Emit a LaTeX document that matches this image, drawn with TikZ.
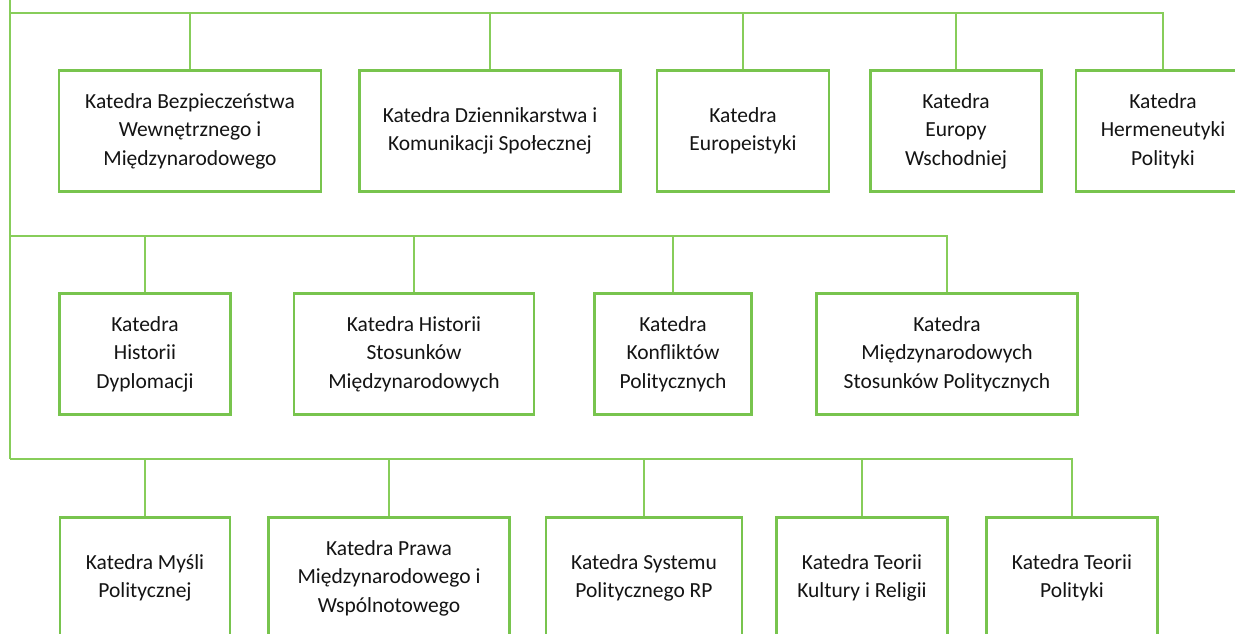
\documentclass[tikz,border=0pt]{standalone}
\usepackage{fontspec}
\setmainfont{Carlito}
\definecolor{boxgreen}{RGB}{120,196,78}
\definecolor{linegreen}{RGB}{135,205,90}
\definecolor{txt}{RGB}{20,20,20}
\tikzset{
  dept/.style={draw=boxgreen, line width=2.6pt, fill=white, align=center, text=txt,
    font=\fontsize{21.5pt}{28.5pt}\selectfont, inner sep=0pt, minimum height=121pt},
  conn/.style={draw=linegreen, line width=1.6pt}
}
\begin{document}
\begin{tikzpicture}[x=1pt,y=-1pt]
\useasboundingbox (0,0) rectangle (1235,634);
\clip (0,0) rectangle (1235,634);
% row 1
\node[dept, minimum width=262pt] (b1) at (190,131) {Katedra Bezpieczeństwa\\Wewnętrznego i\\Międzynarodowego};
\node[dept, minimum width=261pt] (b2) at (490,131) {Katedra Dziennikarstwa i\\Komunikacji Społecznej};
\node[dept, minimum width=172pt] (b3) at (743,131) {Katedra\\Europeistyki};
\node[dept, minimum width=171pt] (b4) at (956,131) {Katedra\\Europy\\Wschodniej};
\node[dept, minimum width=174pt] (b5) at (1163,131) {Katedra\\Hermeneutyki\\Polityki};
% row 2
\node[dept, minimum width=171pt] (c1) at (145,354) {Katedra\\Historii\\Dyplomacji};
\node[dept, minimum width=240pt] (c2) at (414,354) {Katedra Historii\\Stosunków\\Międzynarodowych};
\node[dept, minimum width=157pt] (c3) at (673,354) {Katedra\\Konfliktów\\Politycznych};
\node[dept, minimum width=261pt] (c4) at (947,354) {Katedra\\Międzynarodowych\\Stosunków Politycznych};
% row 3
\node[dept, minimum width=170pt] (d1) at (145,578) {Katedra Myśli\\Politycznej};
\node[dept, minimum width=241pt] (d2) at (389,578) {Katedra Prawa\\Międzynarodowego i\\Wspólnotowego};
\node[dept, minimum width=196pt] (d3) at (644,578) {Katedra Systemu\\Politycznego RP};
\node[dept, minimum width=171pt] (d4) at (862,578) {Katedra Teorii\\Kultury i Religii};
\node[dept, minimum width=171pt] (d5) at (1072,578) {Katedra Teorii\\Polityki};
% trunk
\coordinate (t0) at (10,-2);
\coordinate (t1) at (10,13);
\coordinate (t2) at (10,236);
\coordinate (t3) at (10,459);
\draw[conn] (t0) -- (t3);
\draw[conn] (t1) -| (b5.north);
\foreach \n in {b1,b2,b3,b4} \draw[conn] (\n.north) -- (\n.north |- t1);
\draw[conn] (t2) -| (c4.north);
\foreach \n in {c1,c2,c3} \draw[conn] (\n.north) -- (\n.north |- t2);
\draw[conn] (t3) -| (d5.north);
\foreach \n in {d1,d2,d3,d4} \draw[conn] (\n.north) -- (\n.north |- t3);
\end{tikzpicture}
\end{document}
